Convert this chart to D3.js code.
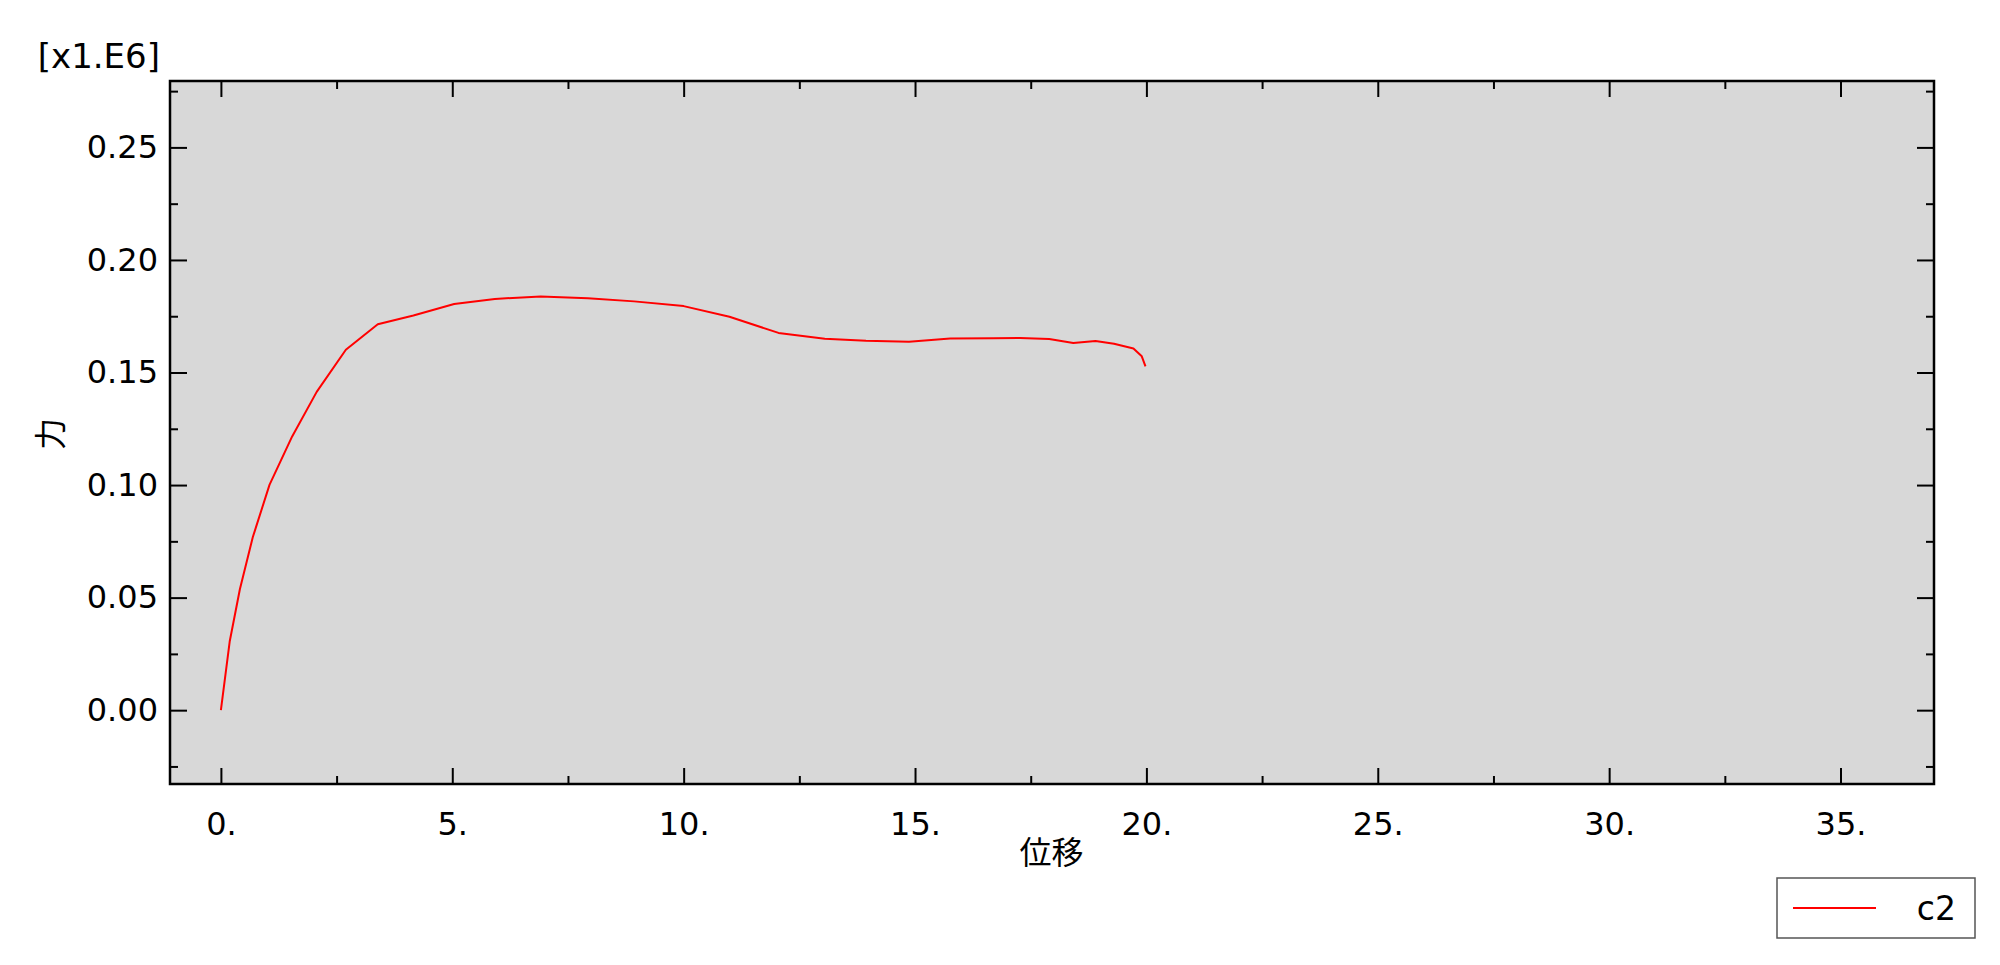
<!DOCTYPE html>
<html>
<head>
<meta charset="utf-8">
<script src="https://cdn.jsdelivr.net/npm/d3@7"></script>
<style>
  body { margin: 0; background: #fff; }
  text { font-family: "DejaVu Sans", Verdana, sans-serif; fill: #000; }
  .cjk { font-family: "Noto Sans CJK JP", "Noto Sans CJK SC", sans-serif; }
</style>
</head>
<body>
<div id="chart"></div>
<script>
const displacement = [0, 0.19, 0.41, 0.69, 1.05, 1.54, 2.07, 2.70, 3.39, 4.16, 5.04, 5.92, 6.91, 7.93, 8.93, 10.0,
    10.99, 12.05, 13.05, 13.94, 14.87, 15.76, 16.69, 17.27, 17.9, 18.42, 18.9, 19.3, 19.72, 19.9, 19.98];
const force = [0, 0.0305, 0.0537, 0.0769, 0.1001, 0.1216, 0.1414, 0.1601, 0.1714, 0.1753, 0.1804, 0.1827, 0.1838, 0.1830, 0.1816, 0.1795,
    0.1748, 0.1676, 0.1650, 0.1641, 0.1637, 0.1651, 0.1652, 0.1653, 0.1649, 0.1631, 0.1640, 0.1628, 0.1607, 0.1572, 0.1527];
const seriesName = "c2";
const xMajorTicks = [0, 5, 10, 15, 20, 25, 30, 35];
const xMinorTicks = [2.5, 7.5, 12.5, 17.5, 22.5, 27.5, 32.5];
const yMajorTicks = [0, 0.05, 0.10, 0.15, 0.20, 0.25];
const yMinorTicks = [-0.025, 0.025, 0.075, 0.125, 0.175, 0.225, 0.275];

const width = 2000, height = 965;
const margin = {left: 170, top: 81, right: 66, bottom: 181};
const innerW = width - margin.left - margin.right;
const innerH = height - margin.top - margin.bottom;

const svg = d3.select("#chart")
    .append("svg")
        .attr("width", width)
        .attr("height", height);

const g = svg.append("g")
    .attr("transform", "translate(" + margin.left + "," + margin.top + ")");

// scales
const x = d3.scaleLinear().domain([-1.1, 37.02]).range([0, innerW]);
const y = d3.scaleLinear().domain([-0.0328, 0.2795]).range([innerH, 0]);

// plot background
g.append("rect")
    .attr("width", innerW)
    .attr("height", innerH)
    .attr("fill", "#d8d8d8");

// inward ticks on all four sides
const tickFmtX = d => d + ".";
const tickFmtY = d => d.toFixed(2);

function drawAxis(axis, tx, ty, showLabels) {
    const a = g.append("g")
        .attr("transform", "translate(" + tx + "," + ty + ")")
        .call(axis);
    a.select(".domain").remove();
    a.selectAll("line").attr("stroke", "#000").attr("stroke-width", 2);
    a.selectAll("text").attr("font-size", 32);
    if (!showLabels) a.selectAll("text").remove();
    return a;
}

drawAxis(d3.axisBottom(x).tickValues(xMajorTicks).tickSize(-16).tickPadding(28).tickFormat(tickFmtX), 0, innerH, true);
drawAxis(d3.axisBottom(x).tickValues(xMinorTicks).tickSize(-8), 0, innerH, false);
drawAxis(d3.axisTop(x).tickValues(xMajorTicks).tickSize(-16), 0, 0, false);
drawAxis(d3.axisTop(x).tickValues(xMinorTicks).tickSize(-8), 0, 0, false);

drawAxis(d3.axisLeft(y).tickValues(yMajorTicks).tickSize(-17).tickPadding(12).tickFormat(tickFmtY), 0, 0, true);
drawAxis(d3.axisLeft(y).tickValues(yMinorTicks).tickSize(-8), 0, 0, false);
drawAxis(d3.axisRight(y).tickValues(yMajorTicks).tickSize(-17), innerW, 0, false);
drawAxis(d3.axisRight(y).tickValues(yMinorTicks).tickSize(-8), innerW, 0, false);

// frame
g.append("rect")
    .attr("width", innerW)
    .attr("height", innerH)
    .attr("fill", "none")
    .attr("stroke", "#000")
    .attr("stroke-width", 2.5);

// the curve
const data = displacement.map((d, i) => ({x: d, y: force[i]}));
const line = d3.line()
    .x(d => x(d.x))
    .y(d => y(d.y));

g.append("path")
    .datum(data)
    .attr("fill", "none")
    .attr("stroke", "#ff0000")
    .attr("stroke-width", 2)
    .attr("stroke-linejoin", "round")
    .attr("d", line);

// scale factor label
svg.append("text")
    .attr("x", 160)
    .attr("y", 68)
    .attr("text-anchor", "end")
    .attr("font-size", 34)
    .text("[x1.E6]");

// axis titles
svg.append("text")
    .attr("class", "cjk")
    .attr("x", margin.left + x(17.95))
    .attr("y", 864)
    .attr("text-anchor", "middle")
    .attr("font-size", 32)
    .text("位移");

svg.append("text")
    .attr("class", "cjk")
    .attr("transform", "translate(62," + 434 + ") rotate(-90)")
    .attr("text-anchor", "middle")
    .attr("font-size", 32)
    .text("力");

// legend
const legend = svg.append("g")
    .attr("transform", "translate(1777,878)");

legend.append("rect")
    .attr("width", 198)
    .attr("height", 60)
    .attr("fill", "#fff")
    .attr("stroke", "#555")
    .attr("stroke-width", 1.5);

legend.append("line")
    .attr("x1", 16)
    .attr("x2", 99)
    .attr("y1", 30)
    .attr("y2", 30)
    .attr("stroke", "#ff0000")
    .attr("stroke-width", 2);

legend.append("text")
    .attr("x", 179)
    .attr("y", 42)
    .attr("text-anchor", "end")
    .attr("font-size", 33)
    .text(seriesName);
</script>
</body>
</html>
